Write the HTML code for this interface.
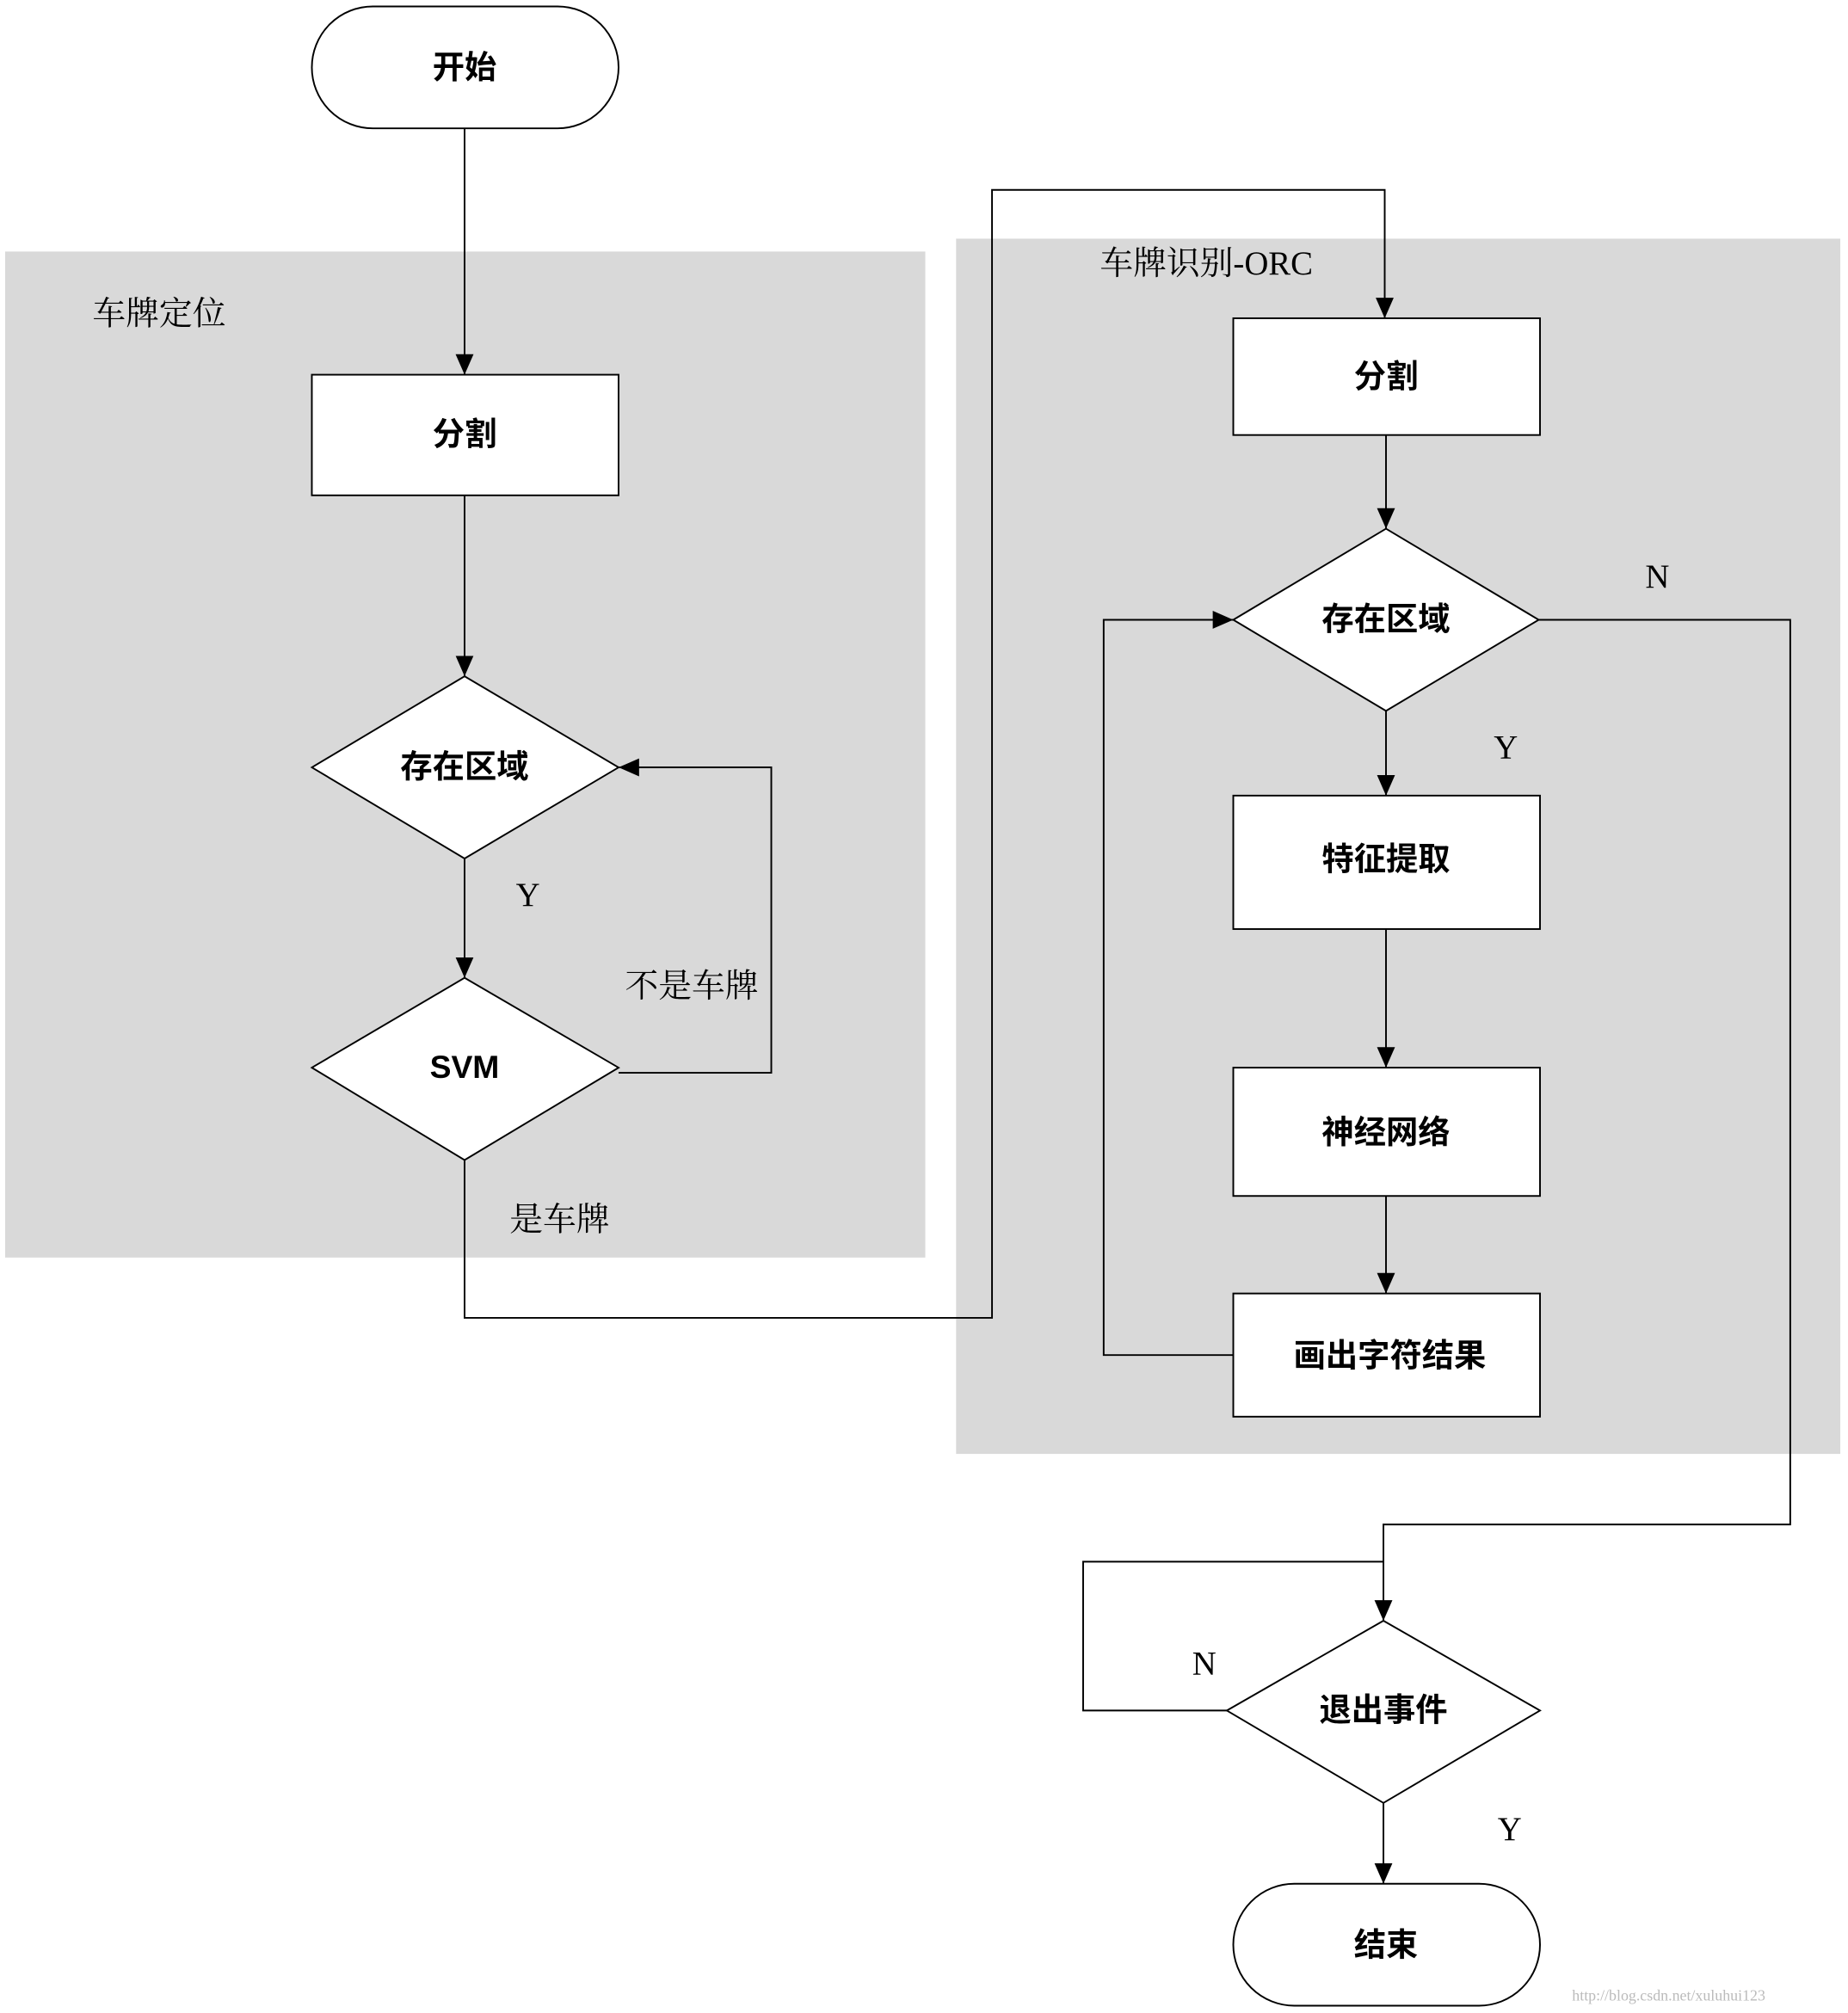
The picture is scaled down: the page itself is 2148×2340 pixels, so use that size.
<!DOCTYPE html>
<html><head><meta charset="utf-8"><style>html,body{margin:0;padding:0;background:#fff}svg{display:block}</style></head>
<body>
<svg width="2148" height="2340" viewBox="0 0 1440 1568.7" xmlns="http://www.w3.org/2000/svg">
<defs><marker id="a" markerWidth="16" markerHeight="14" refX="16" refY="7" orient="auto" markerUnits="userSpaceOnUse"><path d="M0,0 L16,7 L0,14 z" fill="#000"/></marker></defs>
<rect x="4" y="196" width="717" height="784" fill="#d9d9d9"/>
<rect x="745" y="186" width="689" height="947" fill="#d9d9d9"/>
<g font-family="'Liberation Serif','Noto Serif CJK SC',serif" font-size="26" fill="#000">
<text x="72" y="253">车牌定位</text>
<text x="857" y="214">车牌识别-ORC</text>
<text x="402" y="706">Y</text>
<text x="487" y="777">不是车牌</text>
<text x="397" y="959">是车牌</text>
<text x="1282" y="458">N</text>
<text x="1164" y="591">Y</text>
<text x="929" y="1305">N</text>
<text x="1167" y="1434">Y</text>
</g>
<g fill="none" stroke="#000" stroke-width="1.3">
<line x1="362" y1="100" x2="362" y2="292" marker-end="url(#a)"/>
<line x1="362" y1="386" x2="362" y2="527" marker-end="url(#a)"/>
<line x1="362" y1="669" x2="362" y2="762" marker-end="url(#a)"/>
<polyline points="482,836 601,836 601,598 482,598" marker-end="url(#a)"/>
<polyline points="362,904 362,1027 773,1027 773,148 1079,148 1079,248" marker-end="url(#a)"/>
<line x1="1080" y1="339" x2="1080" y2="412" marker-end="url(#a)"/>
<polyline points="1199,483 1395,483 1395,1188 1078,1188 1078,1263" marker-end="url(#a)"/>
<line x1="1080" y1="554" x2="1080" y2="620" marker-end="url(#a)"/>
<line x1="1080" y1="724" x2="1080" y2="832" marker-end="url(#a)"/>
<line x1="1080" y1="932" x2="1080" y2="1008" marker-end="url(#a)"/>
<polyline points="961,1056 860,1056 860,483 961,483" marker-end="url(#a)"/>
<polyline points="956,1333 844,1333 844,1217 1078,1217"/>
<line x1="1078" y1="1405" x2="1078" y2="1468" marker-end="url(#a)"/>
</g>
<g fill="#fff" stroke="#000" stroke-width="1.3">
<rect x="243" y="5" width="239" height="95" rx="47.5"/>
<rect x="243" y="292" width="239" height="94"/>
<polygon points="243,598 362,527 482,598 362,669"/>
<polygon points="243,832 362,762 482,832 362,904"/>
<rect x="961" y="248" width="239" height="91"/>
<polygon points="961,483 1080,412 1199,483 1080,554"/>
<rect x="961" y="620" width="239" height="104"/>
<rect x="961" y="832" width="239" height="100"/>
<rect x="961" y="1008" width="239" height="96"/>
<polygon points="956,1333 1078,1263 1200,1333 1078,1405"/>
<rect x="961" y="1468" width="239" height="95" rx="47.5"/>
</g>
<g font-family="'Liberation Sans','Noto Sans CJK SC',sans-serif" font-size="25" font-weight="bold" text-anchor="middle" fill="#000">
<text x="362" y="61">开始</text>
<text x="362" y="347">分割</text>
<text x="362" y="606">存在区域</text>
<text x="362" y="840">SVM</text>
<text x="1080" y="302">分割</text>
<text x="1080" y="491">存在区域</text>
<text x="1080" y="678">特征提取</text>
<text x="1080" y="891">神经网络</text>
<text x="1083" y="1065">画出字符结果</text>
<text x="1078" y="1341">退出事件</text>
<text x="1080" y="1524">结束</text>
</g>
<text x="1225" y="1559" font-family="'Liberation Serif',serif" font-size="12" fill="#bbb">http://blog.csdn.net/xuluhui123</text>
</svg>
</body></html>
